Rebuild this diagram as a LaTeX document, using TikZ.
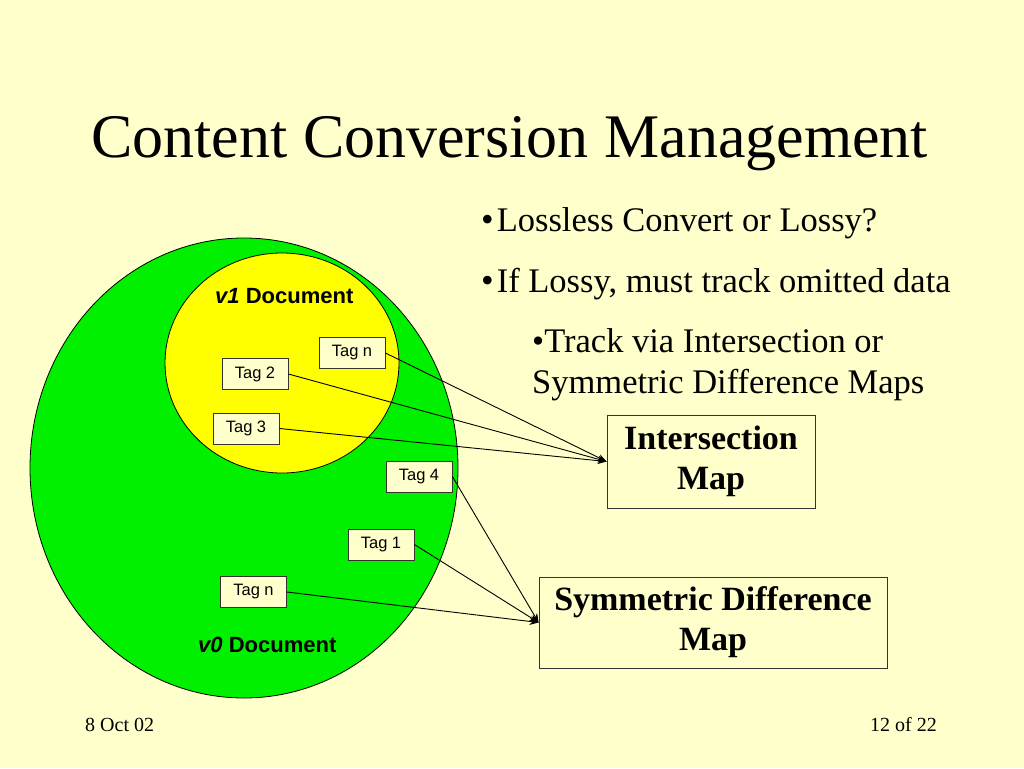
\documentclass[tikz,border=0pt]{standalone}
\usepackage{fontspec}
\setmainfont{Liberation Serif}
\setsansfont{Liberation Sans}
\usetikzlibrary{arrows.meta}
\definecolor{bgcream}{RGB}{255,255,204}
\definecolor{docgreen}{RGB}{0,240,0}
\definecolor{docyellow}{RGB}{255,255,0}
\begin{document}
\begin{tikzpicture}[x=1pt,y=-1pt,
  tagbox/.style={draw=black!80, fill=bgcream, line width=0.8pt, minimum width=66pt, minimum height=31pt, inner sep=0pt, font=\sffamily\fontsize{16.5}{16.5}\selectfont},
  mapbox/.style={draw=black!80, fill=bgcream, line width=0.8pt, inner sep=0pt, align=center, font=\rmfamily\bfseries\fontsize{34}{40}\selectfont},
  link/.style={draw=black, line width=0.9pt, -{Stealth[length=9pt,width=7pt]}},
  doclabel/.style={font=\sffamily\bfseries\fontsize{22}{22}\selectfont, anchor=base west, inner sep=0pt},
  bodytext/.style={font=\rmfamily\fontsize{34.5}{34.5}\selectfont, anchor=base west, inner sep=0pt}
]
\useasboundingbox (0,0) rectangle (1024,768);
\fill[bgcream] (0,0) rectangle (1024,768);

% title
\node[font=\rmfamily\fontsize{62}{62}\selectfont, anchor=base west, inner sep=0pt] (title) at (91,157) {Content Conversion Management};

% documents
\draw[fill=docgreen, line width=0.8pt] (244,468) ellipse [x radius=214, y radius=230];
\draw[fill=docyellow, line width=0.8pt] (282,363) ellipse [x radius=117, y radius=110];
\node[doclabel] (v1) at (215,303) {\textit{v1} Document};
\node[doclabel] (v0) at (198,652) {\textit{v0} Document};

% tags
\node[tagbox] (tagnA) at (352,353) {Tag n};
\node[tagbox] (tag2) at (255,374) {Tag 2};
\node[tagbox] (tag3) at (246,428.5) {Tag 3};
\node[tagbox] (tag4) at (419,476.5) {Tag 4};
\node[tagbox] (tag1) at (381,544.5) {Tag 1};
\node[tagbox] (tagnB) at (253.5,592) {Tag n};

% maps
\node[mapbox, minimum width=208pt, minimum height=93pt] (inter) at (711,461.5) {Intersection\\Map};
\node[mapbox, minimum width=348pt, minimum height=91pt] (symdiff) at (713,622.5) {Symmetric Difference\\Map};

% connectors
\draw[link] (tagnA.east) -- (inter.west);
\draw[link] (tag2.east) -- (inter.west);
\draw[link] (tag3.east) -- (inter.west);
\draw[link] (tag4.east) -- (symdiff.west);
\draw[link] (tag1.east) -- (symdiff.west);
\draw[link] (tagnB.east) -- (symdiff.west);

% bullets
\node[bodytext] (b1) at (481,231) {{\fontsize{36}{36}\selectfont\textbullet}\hspace{3pt}Lossless Convert or Lossy?};
\node[bodytext] (b2) at (481,292) {{\fontsize{36}{36}\selectfont\textbullet}\hspace{3pt}If Lossy, must track omitted data};
\node[bodytext] (b3) at (532,352) {\textbullet Track via Intersection or};
\node[bodytext] (b4) at (532,393) {Symmetric Difference Maps};

% footer
\node[font=\rmfamily\fontsize{20}{20}\selectfont, anchor=base west, inner sep=0pt] (date) at (85,731) {8 Oct 02};
\node[font=\rmfamily\fontsize{20}{20}\selectfont, anchor=base east, inner sep=0pt] (page) at (937,731) {12 of 22};
\end{tikzpicture}
\end{document}
